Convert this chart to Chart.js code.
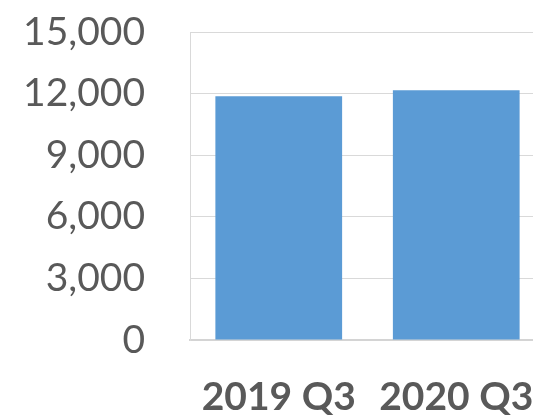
<!DOCTYPE html>
<html>
<head>
<meta charset="utf-8">
<script src="https://cdn.jsdelivr.net/npm/chart.js@4.4.0/dist/chart.umd.min.js"></script>
<style>
  html, body { margin: 0; padding: 0; background: #ffffff; overflow: hidden; }
  #wrap { width: 548px; height: 418px; position: relative; }
</style>
</head>
<body>
<div id="wrap"><canvas id="c" width="548" height="418"></canvas></div>
<script>
const categories = ["2019 Q3", "2020 Q3"];
const values = [11870, 12165];
const yTicks = [0, 3000, 6000, 9000, 12000, 15000];

const ctx = document.getElementById('c').getContext('2d');
new Chart(ctx, {
  type: 'bar',
  data: {
    labels: categories,
    datasets: [{
      data: values,
      backgroundColor: '#5B9BD5',
      borderWidth: 0,
      categoryPercentage: 0.714,
      barPercentage: 1.0
    }]
  },
  options: {
    responsive: false,
    animation: false,
    devicePixelRatio: 1,
    layout: { padding: { top: 32, right: 3, left: 0, bottom: 0 } },
    plugins: { legend: { display: false }, tooltip: { enabled: false } },
    scales: {
      x: {
        grid: { display: false, drawTicks: false },
        border: { display: true, color: '#d4d4d4', width: 2 },
        ticks: {
          color: '#595959',
          font: { family: 'Lato', size: 39, weight: 'bold' },
          padding: 34,
          maxRotation: 0
        },
        afterFit: s => { s.height = 78; s.paddingLeft = 0; s.paddingRight = 0; }
      },
      y: {
        min: 0,
        max: 15000,
        afterBuildTicks: s => { s.ticks = yTicks.map(v => ({ value: v })); },
        grid: { color: '#d9d9d9', lineWidth: 1, drawTicks: false, tickLength: 0 },
        border: { display: true, color: '#d9d9d9', width: 1 },
        ticks: {
          color: '#595959',
          font: { family: 'Lato', size: 39 },
          padding: 45,
          callback: v => v.toLocaleString('en-US')
        },
        afterFit: s => { s.width = 190; s.paddingTop = 0; s.paddingBottom = 0; }
      }
    }
  }
});
</script>
</body>
</html>
